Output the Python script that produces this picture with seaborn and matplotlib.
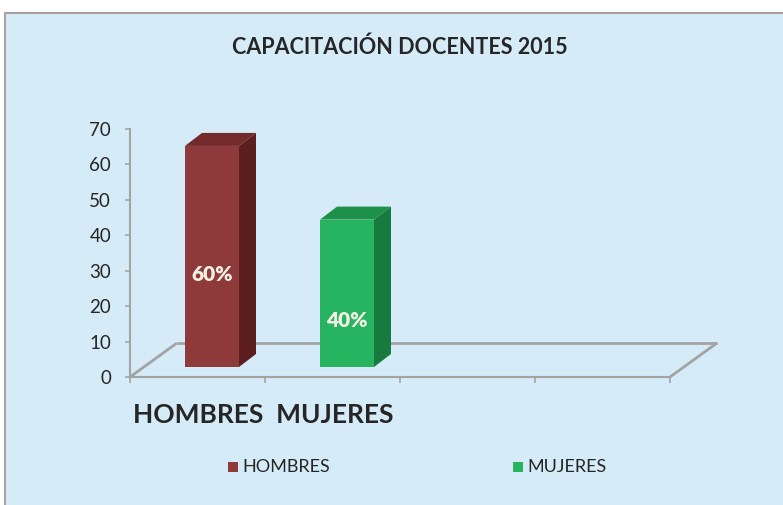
import matplotlib
matplotlib.use("Agg")
import matplotlib.pyplot as plt
import pandas as pd
import seaborn as sns
from matplotlib.patches import Polygon, Rectangle

# Chart data
categories = ["HOMBRES", "MUJERES"]
values = [60, 40]
value_labels = ["60%", "40%"]
yticks = [0, 10, 20, 30, 40, 50, 60, 70]
title = "CAPACITACIÓN DOCENTES 2015"
xlabel = "HOMBRES  MUJERES"
n_slots = 4

# Colours (front / side / top faces)
front_colors = ["#8E3A3B", "#27B460"]
side_colors = ["#5C1E1F", "#177A3F"]
top_colors = ["#722A2B", "#1D9149"]
bg = "#D5EBF8"
axis_grey = "#A3A3A3"
text_dark = "#262626"

sns.set_style("white")
plt.rcParams["font.family"] = ["Lato", "DejaVu Sans"]

W, H = 783, 505
fig = plt.figure(figsize=(W / 100, H / 100), dpi=100)
fig.patch.set_facecolor("white")
# chart area with border
fig.patches.append(Rectangle((5 / W, -0.05), 1.1, 1 - 13 / H + 0.05,
                             transform=fig.transFigure, facecolor=bg,
                             edgecolor="#A9A29C", lw=1.5, zorder=-10))

ax = fig.add_axes([130 / W, 128 / H, 540 / W, 248 / H])
ax.set_facecolor("none")

df = pd.DataFrame({"cat": categories, "val": values})
sns.barplot(data=df, x="cat", y="val", hue="cat", palette=front_colors,
            saturation=1, width=0.4, legend=False, ax=ax)

ax.set_xlim(-0.5, n_slots - 0.5)
ax.set_ylim(0, 70)

# pseudo-3D geometry (data units)
px_x = 540 / n_slots          # px per x unit
px_y = 248 / 70               # px per y unit
shift_x = 14.5 / px_x
lift = 10 / px_y
persp = 1.04
side_dx = 17 / px_x
side_dy = 13 / px_y
floor_dx = 47 / px_x
floor_dy = 34 / px_y

# floor outline
fl = dict(color=axis_grey, lw=2, clip_on=False, zorder=1, solid_capstyle="butt")
ax.plot([-0.5, -0.5 + floor_dx], [0, floor_dy], **fl)
ax.plot([-0.5 + floor_dx, n_slots - 0.5 + floor_dx], [floor_dy, floor_dy], **fl)
ax.plot([n_slots - 0.5, n_slots - 0.5 + floor_dx], [0, floor_dy], **fl)

label_y = [29, 16]
for p in list(ax.patches):
    i = int(round(p.get_x() + p.get_width() / 2))
    p.set_x(p.get_x() + shift_x)
    p.set_y(lift)
    p.set_height(p.get_height() * persp)
    p.set_zorder(3)
    p.set_edgecolor("none")
    x0, x1 = p.get_x(), p.get_x() + p.get_width()
    y0, y1 = p.get_y(), p.get_y() + p.get_height()
    side = Polygon([(x1, y0), (x1 + side_dx, y0 + side_dy),
                    (x1 + side_dx, y1 + side_dy), (x1, y1)],
                   closed=True, facecolor=side_colors[i], edgecolor="none",
                   zorder=3, clip_on=False)
    top = Polygon([(x0, y1), (x0 + side_dx, y1 + side_dy),
                   (x1 + side_dx, y1 + side_dy), (x1, y1)],
                  closed=True, facecolor=top_colors[i], edgecolor="none",
                  zorder=3, clip_on=False)
    ax.add_patch(side)
    ax.add_patch(top)
    ax.text((x0 + x1) / 2, label_y[i], value_labels[i], ha="center",
            va="center", color="#F3EFE3", fontsize=15, fontweight="heavy",
            zorder=4)

# axes styling
for s in ["top", "right"]:
    ax.spines[s].set_visible(False)
for s in ["left", "bottom"]:
    ax.spines[s].set_color(axis_grey)
    ax.spines[s].set_linewidth(1.5)
ax.set_xticks([k - 0.5 for k in range(n_slots + 1)])
ax.set_xticklabels([])
ax.set_yticks(yticks)
ax.set_yticklabels([str(t) for t in yticks])
ax.tick_params(axis="x", direction="out", length=4.5, width=1.2,
               color=axis_grey, bottom=True)
ax.tick_params(axis="y", direction="out", length=3.5, width=1.2,
               color=axis_grey, left=True, labelsize=13.5,
               labelcolor=text_dark, pad=10)
ax.set_xlabel("")
ax.set_ylabel("")

fig.text(400 / W, 1 - 47 / H, title, ha="center", va="center",
         fontsize=15.5, fontweight="bold", color=text_dark)
fig.text(133 / W, 1 - 415 / H, xlabel, ha="left", va="center",
         fontsize=19, fontweight="bold", color=text_dark)

# legend
legend_x = [228, 513]
for i, cat in enumerate(categories):
    fig.patches.append(Rectangle((legend_x[i] / W, (H - 472) / H), 10 / W, 10 / H,
                                 transform=fig.transFigure,
                                 facecolor=front_colors[i], edgecolor="none"))
    fig.text((legend_x[i] + 14) / W, 1 - 467 / H, cat, ha="left",
             va="center", fontsize=13, color=text_dark)

fig.savefig("out.png", dpi=100)
